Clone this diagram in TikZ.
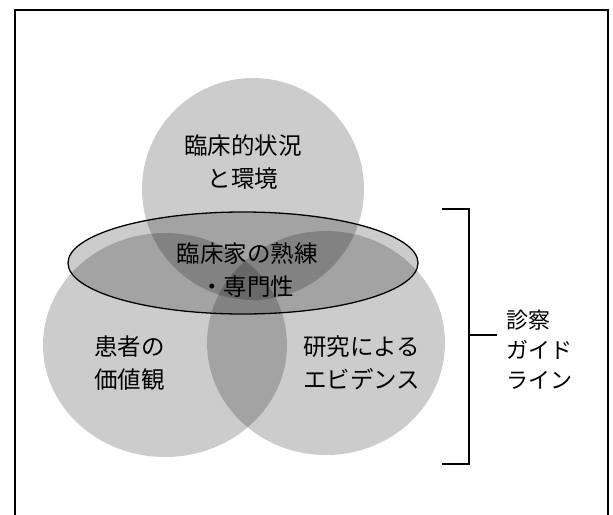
\documentclass[tikz,border=0pt]{standalone}
\usepackage{fontspec}
\newfontfamily\jp{Noto Sans CJK JP}
\begin{document}
\begin{tikzpicture}[x=1pt,y=-1pt,
  blob/.style={fill=black,fill opacity=0.2,draw=none},
  frameline/.style={draw=black,line width=1.6pt},
  bracketline/.style={draw=black,line width=1.4pt},
  ringline/.style={draw=black,line width=1.3pt},
  lbl/.style={font=\jp\fontsize{23.5}{33}\selectfont,inner sep=0pt,text=black},
  sidelbl/.style={font=\jp\fontsize{22}{30}\selectfont,inner sep=0pt,text=black,align=left,anchor=west}]
\useasboundingbox (0,0) rectangle (613,514);
% frame (bottom edge lies below the picture)
\draw[frameline] (15,520) -- (15,10) -- (608,10) -- (608,520);
% three circles
\fill[blob] (253,189) circle[radius=111];
\fill[blob] (165,345) ellipse[x radius=122,y radius=112];
\fill[blob] (326,343) ellipse[x radius=119,y radius=112];
% ellipse of clinical expertise
\fill[blob] (243,263) ellipse[x radius=175,y radius=51];
\draw[ringline] (243,263) ellipse[x radius=175,y radius=51];
% texts
\node[lbl,align=center] (ctx) at (243,162) {臨床的状況\\と環境};
\node[lbl,align=center] (exp) at (247,270) {臨床家の熟練\\・専門性};
\node[lbl,align=left,anchor=west] (pat) at (94,363) {患者の\\価値観};
\node[lbl,align=left,anchor=west] (evi) at (303,363) {研究による\\エビデンス};
\node[sidelbl] (gl) at (506,350) {診察\\ガイド\\ライン};
% bracket
\coordinate (bt) at (442,209);
\coordinate (bb) at (442,464);
\coordinate (bm) at (469,335);
\draw[bracketline] (bt) -- (469,209) -- (469,464) -- (bb);
\draw[bracketline] (bm) -- (497,335);
\end{tikzpicture}
\end{document}
